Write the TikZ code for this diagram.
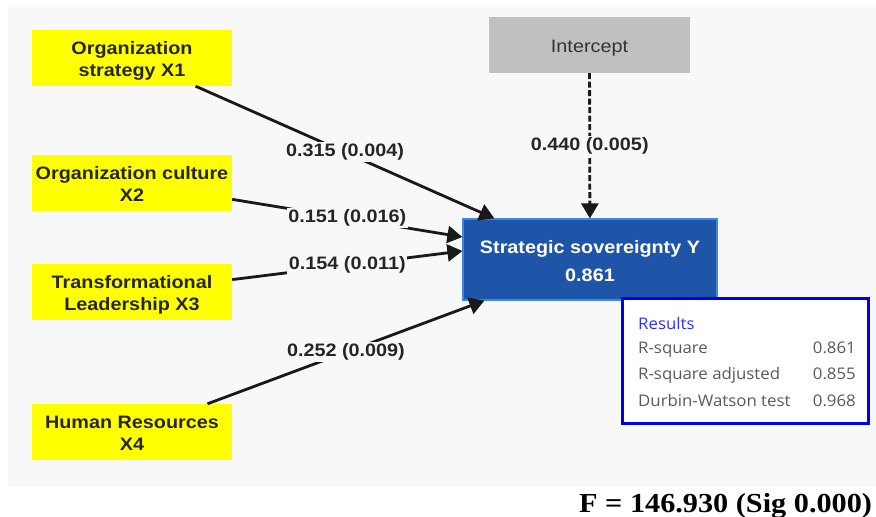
\documentclass[tikz,border=0pt]{standalone}
\usepackage{fontspec}
\setmainfont{Liberation Sans}[FakeStretch=1.1]
\newfontfamily\resfont{Open Sans}[FakeStretch=1.05]
\newfontfamily\serifbold{Liberation Serif}[FakeStretch=1.1]
\usetikzlibrary{arrows.meta}
\definecolor{bgc}{HTML}{F8F8F8}
\definecolor{yel}{HTML}{FFFF00}
\definecolor{icpt}{HTML}{C0C0C0}
\definecolor{ybl}{HTML}{1F55A8}
\definecolor{yblb}{HTML}{3F86E8}
\definecolor{resb}{HTML}{0000F0}
\definecolor{rest}{HTML}{5A5A5A}
\definecolor{resh}{HTML}{3030F0}
\tikzset{
  xbox/.style={fill=yel, minimum width=200pt, minimum height=56pt, inner sep=0pt,
    text height=37.5pt, text depth=0pt,
    align=center, text=black!85, font=\bfseries\fontsize{18}{22.5}\selectfont},
  ibox/.style={fill=icpt, minimum width=201pt, minimum height=56pt, inner sep=0pt,
    text height=15.5pt, text depth=0pt,
    text=black!80, font=\fontsize{18}{22}\selectfont},
  ybox/.style={fill=ybl, draw=yblb, line width=1.2pt, minimum width=254pt, minimum height=81pt,
    text height=44pt, text depth=0pt,
    inner sep=0pt, align=center, text=white, font=\bfseries\fontsize{18}{28}\selectfont},
  rbox/.style={fill=white, draw=resb, line width=3.5pt, minimum width=246pt, minimum height=125pt, inner sep=0pt},
  rtxt/.style={inner sep=0pt, text=rest, font=\resfont\fontsize{16}{20}\selectfont},
  rhead/.style={inner sep=0pt, text=resh, font=\resfont\fontsize{16}{20}\selectfont},
  conn/.style={line width=2.8pt, draw=black!90, -{Triangle[length=15pt,width=17pt]}},
  dconn/.style={conn, dash pattern=on 6pt off 2.5pt},
  lbl/.style={fill=bgc, inner sep=1.5pt, text=black!85, font=\bfseries\fontsize{18}{20}\selectfont},
}
\begin{document}
\begin{tikzpicture}[x=1pt,y=-1pt]
\useasboundingbox (0,0) rectangle (876,517);
\fill[white] (0,0) rectangle (876,517);
\fill[bgc] (8,7) rectangle (876,486);

\node[xbox] (x1) at (132,58) {Organization\\strategy X1};
\node[xbox] (x2) at (132,183) {Organization culture\\X2};
\node[xbox] (x3) at (132,292) {Transformational\\Leadership X3};
\node[xbox] (x4) at (132,432) {Human Resources\\X4};
\node[ibox] (ic) at (589.5,45) {Intercept};
\node[ybox] (y) at (590,259.5) {Strategic sovereignty Y\\0.861};

\draw[conn] (x1) -- ([xshift=32pt]y.north west) node[midway, lbl] {0.315 (0.004)};
\draw[conn] (x2) -- ([yshift=22.5pt]y.west) node[midway, lbl] {0.151 (0.016)};
\draw[conn] (x3) -- ([yshift=8.5pt]y.west) node[midway, lbl] {0.154 (0.011)};
\draw[conn] (x4) -- ([xshift=22pt]y.south west) node[midway, lbl] {0.252 (0.009)};
\draw[dconn] (ic) -- (y) node[midway, lbl] {0.440 (0.005)};

\node[rbox] (res) at (745.5,361) {};
\node[rhead, anchor=base west] (rh) at (638,329) {Results};
\node[rtxt, anchor=base west] (r1) at (638,353) {R-square};
\node[rtxt, anchor=base west] (r2) at (638,379.5) {R-square adjusted};
\node[rtxt, anchor=base west] (r3) at (638,406) {Durbin-Watson test};
\node[rtxt, anchor=base east] (v1) at (856,353) {0.861};
\node[rtxt, anchor=base east] (v2) at (856,379.5) {0.855};
\node[rtxt, anchor=base east] (v3) at (856,406) {0.968};

\node[anchor=base west, inner sep=0pt, text=black, font=\serifbold\bfseries\fontsize{27.5}{30}\selectfont] (f) at (579,512) {F = 146.930 (Sig 0.000)};
\end{tikzpicture}
\end{document}
